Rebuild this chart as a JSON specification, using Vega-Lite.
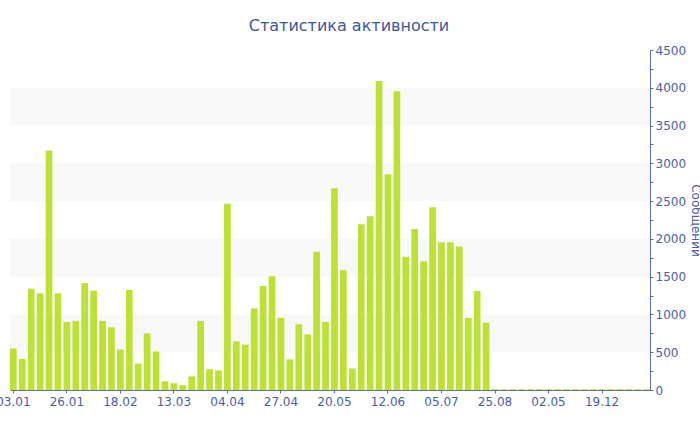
{
  "$schema": "https://vega.github.io/schema/vega-lite/v6.json",
  "autosize": "none",
  "width": 640,
  "height": 340,
  "padding": {"left": 10, "top": 50, "right": 50, "bottom": 40},
  "background": "white",
  "title": {
    "text": "Статистика активности",
    "font": "DejaVu Sans",
    "fontSize": 16,
    "fontWeight": "normal",
    "color": "#3d56a5",
    "anchor": "middle",
    "dx": 19,
    "offset": 10
  },
  "config": {
    "view": {"stroke": null},
    "axis": {
      "labelFont": "DejaVu Sans",
      "titleFont": "DejaVu Sans",
      "labelFontSize": 12,
      "labelColor": "#4a5ea8",
      "titleColor": "#4a5ea8",
      "domainColor": "#5b6fb0",
      "tickColor": "#5b6fb0",
      "grid": false
    }
  },
  "layer": [
    {
      "data": {"values": [
        {"y0": 500, "y1": 1000},
        {"y0": 1500, "y1": 2000},
        {"y0": 2500, "y1": 3000},
        {"y0": 3500, "y1": 4000}
      ]},
      "mark": {"type": "rect", "color": "#f8f8f8"},
      "encoding": {
        "y": {
          "field": "y0", "type": "quantitative",
          "scale": {"domain": [0, 4500]},
          "axis": {
            "orient": "right",
            "title": "Сообщений",
            "titleFontSize": 12,
            "titleFontWeight": "normal",
            "titleAngle": 90,
            "titlePadding": 3,
            "values": [0, 250, 500, 750, 1000, 1250, 1500, 1750, 2000, 2250, 2500, 2750, 3000, 3250, 3500, 3750, 4000, 4250, 4500],
            "labelExpr": "datum.value % 500 == 0 ? format(datum.value, 'd') : ''",
            "labelOverlap": false,
            "tickSize": 3,
            "labelPadding": 2,
            "labelBaseline": "middle"
          }
        },
        "y2": {"field": "y1"}
      }
    },
    {
      "data": {"values": [
        {"n": 0, "v": 550}, {"n": 1, "v": 410}, {"n": 2, "v": 1340}, {"n": 3, "v": 1280},
        {"n": 4, "v": 3170}, {"n": 5, "v": 1280}, {"n": 6, "v": 900}, {"n": 7, "v": 915},
        {"n": 8, "v": 1415}, {"n": 9, "v": 1315}, {"n": 10, "v": 915}, {"n": 11, "v": 830},
        {"n": 12, "v": 535}, {"n": 13, "v": 1325}, {"n": 14, "v": 350}, {"n": 15, "v": 750},
        {"n": 16, "v": 510}, {"n": 17, "v": 115}, {"n": 18, "v": 90}, {"n": 19, "v": 65},
        {"n": 20, "v": 180}, {"n": 21, "v": 915}, {"n": 22, "v": 275}, {"n": 23, "v": 260},
        {"n": 24, "v": 2465}, {"n": 25, "v": 645}, {"n": 26, "v": 600}, {"n": 27, "v": 1080},
        {"n": 28, "v": 1375}, {"n": 29, "v": 1505}, {"n": 30, "v": 955}, {"n": 31, "v": 405},
        {"n": 32, "v": 870}, {"n": 33, "v": 735}, {"n": 34, "v": 1830}, {"n": 35, "v": 900},
        {"n": 36, "v": 2670}, {"n": 37, "v": 1585}, {"n": 38, "v": 285}, {"n": 39, "v": 2195},
        {"n": 40, "v": 2300}, {"n": 41, "v": 4090}, {"n": 42, "v": 2855}, {"n": 43, "v": 3955},
        {"n": 44, "v": 1765}, {"n": 45, "v": 2130}, {"n": 46, "v": 1705}, {"n": 47, "v": 2420},
        {"n": 48, "v": 1955}, {"n": 49, "v": 1955}, {"n": 50, "v": 1900}, {"n": 51, "v": 955},
        {"n": 52, "v": 1310}, {"n": 53, "v": 890},
        {"n": 54, "v": 12}, {"n": 55, "v": 12}, {"n": 56, "v": 12}, {"n": 57, "v": 12},
        {"n": 58, "v": 12}, {"n": 59, "v": 12}, {"n": 60, "v": 12}, {"n": 61, "v": 12},
        {"n": 62, "v": 12}, {"n": 63, "v": 12}, {"n": 64, "v": 12}, {"n": 65, "v": 12},
        {"n": 66, "v": 12}, {"n": 67, "v": 12}, {"n": 68, "v": 12}, {"n": 69, "v": 12},
        {"n": 70, "v": 12}, {"n": 71, "v": 12}
      ]},
      "mark": {"type": "bar", "color": "#bde133"},
      "encoding": {
        "x": {
          "field": "n", "type": "ordinal",
          "scale": {"paddingInner": 0.25, "paddingOuter": 0},
          "axis": {
            "title": null,
            "values": [0, 6, 12, 18, 24, 30, 36, 42, 48, 54, 60, 66],
            "labelExpr": "['03.01','26.01','18.02','13.03','04.04','27.04','20.05','12.06','05.07','25.08','02.05','19.12'][floor(datum.value/6)]",
            "labelAngle": 0,
            "tickSize": 3,
            "labelPadding": 3
          }
        },
        "y": {
          "field": "v", "type": "quantitative",
          "scale": {"domain": [0, 4500]},
          "axis": {
            "orient": "right",
            "title": "Сообщений",
            "titleFontSize": 12,
            "titleFontWeight": "normal",
            "titleAngle": 90,
            "titlePadding": 3,
            "values": [0, 250, 500, 750, 1000, 1250, 1500, 1750, 2000, 2250, 2500, 2750, 3000, 3250, 3500, 3750, 4000, 4250, 4500],
            "labelExpr": "datum.value % 500 == 0 ? format(datum.value, 'd') : ''",
            "labelOverlap": false,
            "tickSize": 3,
            "labelPadding": 2,
            "labelBaseline": "middle"
          }
        }
      }
    }
  ]
}
